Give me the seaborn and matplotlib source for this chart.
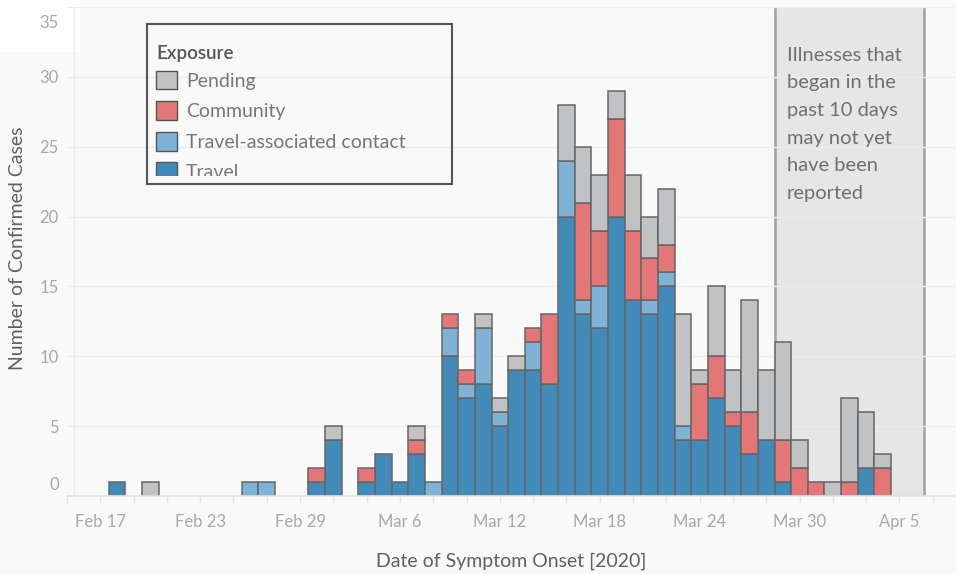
import numpy as np
import pandas as pd
import matplotlib
matplotlib.use("Agg")
import matplotlib.pyplot as plt
import seaborn as sns
from matplotlib.patches import Rectangle, Patch
from matplotlib.text import Text
from matplotlib.transforms import Bbox, TransformedBbox, offset_copy

# ---------------- data ----------------
dates = ["2020-02-18", "2020-02-20", "2020-02-26", "2020-02-27", "2020-03-01",
         "2020-03-02", "2020-03-04", "2020-03-05", "2020-03-06", "2020-03-07",
         "2020-03-08", "2020-03-09", "2020-03-10", "2020-03-11", "2020-03-12",
         "2020-03-13", "2020-03-14", "2020-03-15", "2020-03-16", "2020-03-17",
         "2020-03-18", "2020-03-19", "2020-03-20", "2020-03-21", "2020-03-22",
         "2020-03-23", "2020-03-24", "2020-03-25", "2020-03-26", "2020-03-27",
         "2020-03-28", "2020-03-29", "2020-03-30", "2020-03-31", "2020-04-01",
         "2020-04-02", "2020-04-03", "2020-04-04"]
travel = [1, 0, 0, 0, 1, 4, 1, 3, 1, 3, 0, 10, 7, 8, 5, 9, 9, 8, 20, 13,
          12, 20, 14, 13, 15, 4, 4, 7, 5, 3, 4, 1, 0, 0, 0, 0, 2, 0]
travel_contact = [0, 0, 1, 1, 0, 0, 0, 0, 0, 0, 1, 2, 1, 4, 1, 0, 2, 0, 4, 1,
                  3, 0, 0, 1, 1, 1, 0, 0, 0, 0, 0, 0, 0, 0, 0, 0, 0, 0]
community = [0, 0, 0, 0, 1, 0, 1, 0, 0, 1, 0, 1, 1, 0, 0, 0, 1, 5, 0, 7,
             4, 7, 5, 3, 2, 0, 4, 3, 1, 3, 0, 3, 2, 1, 0, 1, 0, 2]
pending = [0, 1, 0, 0, 0, 1, 0, 0, 0, 1, 0, 0, 0, 1, 1, 1, 0, 0, 4, 4,
           4, 2, 4, 3, 4, 8, 1, 5, 3, 8, 5, 7, 2, 0, 1, 6, 4, 1]

categories = ["Pending", "Community", "Travel-associated contact", "Travel"]
palette = {"Pending": "#c0c2c4", "Community": "#e37777",
           "Travel-associated contact": "#80b2d6", "Travel": "#428bb9"}
tick_labels = ["Feb 17", "Feb 23", "Feb 29", "Mar 6", "Mar 12",
               "Mar 18", "Mar 24", "Mar 30", "Apr 5"]
y_ticks = [0, 5, 10, 15, 20, 25, 30, 35]
note = "Illnesses that\nbegan in the\npast 10 days\nmay not yet\nhave been\nreported"

# ---------------- frame ----------------
start = pd.Timestamp("2020-02-17")
day = (pd.to_datetime(dates) - start).days
wide = pd.DataFrame({"day": day, "Travel": travel,
                     "Travel-associated contact": travel_contact,
                     "Community": community, "Pending": pending})
long = wide.melt(id_vars="day", var_name="Exposure", value_name="count")

BG = "#f9f9f9"
W, H = 956, 574
sns.set_theme(style="white")
plt.rcParams["font.family"] = ["Lato", "DejaVu Sans"]

fig = plt.figure(figsize=(W / 100, H / 100), dpi=100, facecolor=BG)
ax = fig.add_axes([67 / W, (H - 496) / H, (W - 67) / W, (496 - 7) / H])
ax.patch.set_visible(False)

# white corner block top-left
fig.add_artist(Rectangle((0, 1 - 52 / H), 80 / W, 52 / H, transform=fig.transFigure,
                         facecolor="white", edgecolor="none", zorder=-1))

# shaded "recent" region
ax.axvspan(40.5, 49.5, ymin=0, ymax=1, facecolor="#e6e6e6", edgecolor="none", zorder=0.2)
ax.axvline(40.5, color="#a0a0a0", lw=1.8, zorder=0.3)
ax.axvline(49.5, color="#a0a0a0", lw=1.8, zorder=0.3)
ax.axvline(-1.55, color="#ececec", lw=1, zorder=0.1)

sns.histplot(data=long, x="day", weights="count", hue="Exposure",
             hue_order=categories, multiple="stack", discrete=True,
             palette=palette, edgecolor="#666666", linewidth=1.1, alpha=1,
             shrink=1, legend=False, ax=ax, zorder=2)
for p in ax.patches:
    if isinstance(p, Rectangle) and p.get_height() == 0 and p.get_zorder() >= 2:
        p.set_visible(False)

ax.set_xlim(-2, 51.4)
ax.set_ylim(0, 35)
ax.set_axisbelow(True)
ax.yaxis.grid(True, color="#ededed", lw=1, zorder=0.5)
ax.xaxis.grid(False)
for s in ["top", "right", "left"]:
    ax.spines[s].set_visible(False)
ax.spines["bottom"].set_color("#e2e2e2")

xt = list(range(-2, 52, 2))
ax.set_xticks(xt)
ax.set_xticklabels([tick_labels[d // 6] if d >= 0 and d % 6 == 0 else "" for d in xt])
ax.tick_params(axis="x", length=5, color="#e2e2e2", width=1, pad=8,
               labelsize=12, labelcolor="#a8a8a8", bottom=True)
ax.set_yticks(y_ticks)
ax.set_yticklabels([str(v) for v in y_ticks])
ax.tick_params(axis="y", length=0, pad=6, labelsize=12, labelcolor="#a8a8a8")
ylabs = ax.get_yticklabels()
ylabs[0].set_transform(offset_copy(ylabs[0].get_transform(), fig=fig, y=13, units="dots"))
ylabs[-1].set_transform(offset_copy(ylabs[-1].get_transform(), fig=fig, y=-15, units="dots"))

ax.set_xlabel("Date of Symptom Onset [2020]", fontsize=14, color="#606060", labelpad=16)
ax.set_ylabel("")
fig.text(18 / W, 1 - 248 / H, "Number of Confirmed Cases", rotation=90,
         ha="center", va="center", fontsize=14, color="#606060")

ax.text(41.25, 32.15, note, ha="left", va="top", fontsize=14.5, color="#707070",
        linespacing=1.76, zorder=3)

# legend (clipped like the reference box)
handles = [Patch(facecolor=palette[c], edgecolor="#555555", lw=1, label=c) for c in categories]
leg = fig.legend(handles=handles, title="Exposure", loc="upper left",
                 bbox_to_anchor=(156 / W, 1 - 42 / H), frameon=False,
                 borderpad=0, borderaxespad=0, handlelength=1.1, handleheight=1.1,
                 handletextpad=0.45, labelspacing=0.6, fontsize=14,
                 title_fontsize=13.5, alignment="left")
title = leg.get_title()
title.set_color("#555555")
title.set_fontweight("semibold")
title.set_transform(offset_copy(title.get_transform(), fig=fig, y=-3, units="dots"))
for t in leg.get_texts():
    t.set_color("#777777")
clip = TransformedBbox(Bbox([[147 / W, 1 - 175.5 / H], [452 / W, 1 - 24 / H]]), fig.transFigure)
for a in leg.findobj(lambda a: isinstance(a, (Text, Rectangle))):
    a.set_clip_box(clip)
    a.set_clip_on(True)
fig.add_artist(Rectangle((147 / W, 1 - 184 / H), (452 - 147) / W, (184 - 24) / H,
                         transform=fig.transFigure, fill=False, edgecolor="#555555",
                         lw=1.5, zorder=5))

fig.savefig("out.png", dpi=100, facecolor=BG)
